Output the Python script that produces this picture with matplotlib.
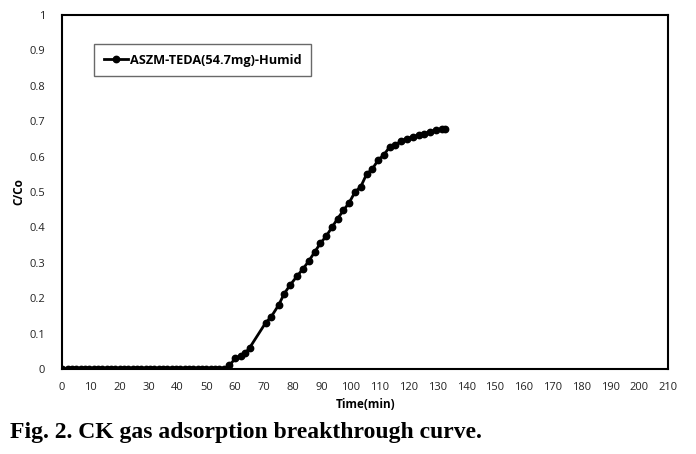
import numpy as np
import matplotlib
matplotlib.use("Agg")
import matplotlib.pyplot as plt

# Breakthrough data
t_flat = [0] + list(np.arange(2, 57, 1.5))
c_flat = [0.0] * len(t_flat)

t_rise = [58, 60, 62, 63.5, 65, 70.5, 72.5, 75, 77, 79,
          81.5, 83.5, 85.5, 87.5, 89.5, 91.5, 93.5, 95.5, 97.5, 99.5,
          101.5, 103.5, 105.5, 107.5, 109.5, 111.5, 113.5, 115.5, 117.5, 119.5,
          121.5, 123.5, 125.5, 127.5, 129.5, 131.5, 132.7]
c_rise = [0.01, 0.03, 0.037, 0.045, 0.06, 0.13, 0.148, 0.18, 0.213, 0.237,
          0.263, 0.283, 0.305, 0.33, 0.355, 0.375, 0.40, 0.425, 0.448, 0.47,
          0.50, 0.515, 0.55, 0.565, 0.59, 0.605, 0.627, 0.632, 0.645, 0.650,
          0.656, 0.660, 0.665, 0.670, 0.675, 0.677, 0.678]

time = t_flat + t_rise
conc = c_flat + c_rise

xticks = list(range(0, 211, 10))
yticks = [0, 0.1, 0.2, 0.3, 0.4, 0.5, 0.6, 0.7, 0.8, 0.9, 1]
ytick_labels = ['0', '0.1', '0.2', '0.3', '0.4', '0.5', '0.6', '0.7', '0.8', '0.9', '1']
series_name = 'ASZM-TEDA(54.7mg)-Humid'

fig = plt.figure(figsize=(6.96, 4.54), dpi=100)
ax = fig.add_axes([0.0891, 0.1872, 0.871, 0.78])

ax.plot(time, conc, color='black', linewidth=2, marker='o', markersize=4.6,
        label=series_name)

ax.set_xlim(0, 210)
ax.set_ylim(0, 1)
ax.set_xticks(xticks)
ax.set_yticks(yticks)
ax.set_yticklabels(ytick_labels)
ax.tick_params(length=0, labelsize=8, colors='#222222')
ax.tick_params(axis='x', pad=9)
ax.tick_params(axis='y', pad=12)
for lab in ax.get_xticklabels() + ax.get_yticklabels():
    lab.set_fontfamily('Open Sans')
for s in ax.spines.values():
    s.set_linewidth(1.5)
    s.set_color('black')

ax.set_xlabel('Time(min)', fontsize=8.5, fontweight='bold', family='Open Sans', labelpad=4)
ax.set_ylabel('C/Co', fontsize=8.5, fontweight='bold', family='Open Sans', labelpad=3)

leg = ax.legend(loc='upper left', bbox_to_anchor=(0.053, 0.918), frameon=True,
                fancybox=False, edgecolor='#444444', handlelength=1.9,
                handletextpad=0.15, borderpad=0.75, borderaxespad=0,
                prop={'family': 'Open Sans', 'weight': 'bold', 'size': 9.2})
leg.get_frame().set_linewidth(1.0)

fig.text(0.014, 0.035, 'Fig. 2. CK gas adsorption breakthrough curve.',
         fontsize=17, fontweight='bold', family='Liberation Serif')

fig.savefig('out.png', dpi=100)
